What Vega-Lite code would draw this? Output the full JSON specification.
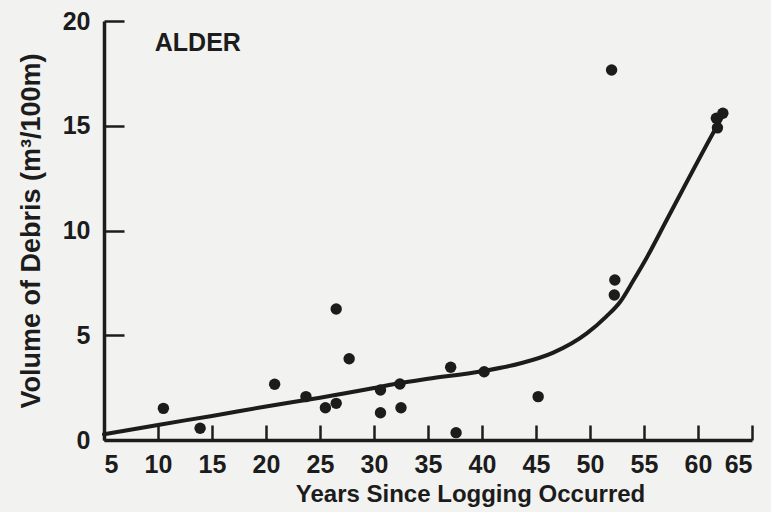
{
  "$schema": "https://vega.github.io/schema/vega-lite/v6.json",
  "width": 648,
  "height": 419,
  "autosize": {"type": "none"},
  "padding": {"left": 104, "top": 21, "right": 19, "bottom": 72},
  "background": "#f2f2f0",
  "config": {
    "view": {"stroke": null},
    "axis": {
      "grid": false,
      "domainColor": "#1c1c1c",
      "domainWidth": 3.5,
      "tickColor": "#1c1c1c",
      "tickWidth": 2.5,
      "labelFont": "Liberation Sans",
      "labelFontWeight": "bold",
      "labelFontSize": 25,
      "labelColor": "#1c1c1c",
      "titleFont": "Liberation Sans",
      "titleFontWeight": "bold",
      "titleFontSize": 24,
      "titleColor": "#1c1c1c"
    }
  },
  "datasets": {
    "points": [
      {"years": 10.5, "volume": 1.51},
      {"years": 13.9, "volume": 0.56},
      {"years": 20.8, "volume": 2.66},
      {"years": 23.7, "volume": 2.07},
      {"years": 25.5, "volume": 1.54},
      {"years": 26.5, "volume": 1.75},
      {"years": 26.5, "volume": 6.25},
      {"years": 27.7, "volume": 3.88},
      {"years": 30.6, "volume": 2.39},
      {"years": 30.6, "volume": 1.3},
      {"years": 32.4, "volume": 2.67},
      {"years": 32.5, "volume": 1.54},
      {"years": 37.1, "volume": 3.47},
      {"years": 37.6, "volume": 0.35},
      {"years": 40.2, "volume": 3.26},
      {"years": 45.2, "volume": 2.07},
      {"years": 52.0, "volume": 17.66},
      {"years": 52.3, "volume": 7.64},
      {"years": 52.25, "volume": 6.92},
      {"years": 61.7, "volume": 15.36},
      {"years": 62.3, "volume": 15.6},
      {"years": 61.8, "volume": 14.9}
    ],
    "curve": [
      {"years": 5, "volume": 0.27},
      {"years": 10, "volume": 0.72},
      {"years": 15, "volume": 1.15},
      {"years": 20, "volume": 1.6},
      {"years": 25, "volume": 2.02},
      {"years": 30, "volume": 2.48},
      {"years": 32.4, "volume": 2.72},
      {"years": 35, "volume": 2.92},
      {"years": 40, "volume": 3.28},
      {"years": 43.5, "volume": 3.65},
      {"years": 46.6, "volume": 4.17},
      {"years": 49.7, "volume": 5.09},
      {"years": 51.5, "volume": 5.89},
      {"years": 52.8, "volume": 6.6},
      {"years": 54, "volume": 7.6},
      {"years": 55.25, "volume": 8.7},
      {"years": 57.1, "volume": 10.5},
      {"years": 61.4, "volume": 14.65},
      {"years": 62.5, "volume": 15.67}
    ],
    "labels": [
      {"years": 9.7, "volume": 18.95, "text": "ALDER"}
    ]
  },
  "layer": [
    {
      "data": {"name": "curve"},
      "mark": {"type": "line", "color": "#1c1c1c", "strokeWidth": 4, "interpolate": "monotone", "strokeCap": "round"},
      "encoding": {
        "x": {
          "field": "years",
          "type": "quantitative",
          "scale": {"domain": [5, 65], "nice": false, "zero": false},
          "axis": {
            "values": [5, 10, 15, 20, 25, 30, 35, 40, 45, 50, 55, 60, 65],
            "tickSize": -15,
            "labelPadding": 27,
            "title": "Years Since Logging Occurred",
            "titleX": 366,
            "titleAlign": "center",
            "titlePadding": 5
          }
        },
        "y": {
          "field": "volume",
          "type": "quantitative",
          "scale": {"domain": [0, 20], "nice": false},
          "axis": {
            "values": [0, 5, 10, 15, 20],
            "tickSize": -20,
            "labelPadding": 34,
            "title": "Volume of Debris (m³/100m)",
            "titleFontSize": 27,
            "titlePadding": 17
          }
        }
      }
    },
    {
      "data": {"name": "points"},
      "mark": {"type": "circle", "color": "#1c1c1c", "opacity": 1, "size": 130},
      "encoding": {
        "x": {"field": "years", "type": "quantitative"},
        "y": {"field": "volume", "type": "quantitative"}
      }
    },
    {
      "data": {"name": "labels"},
      "mark": {"type": "text", "font": "Liberation Sans", "fontWeight": "bold", "fontSize": 25, "align": "left", "baseline": "middle", "color": "#1c1c1c", "letterSpacing": 3},
      "encoding": {
        "x": {"field": "years", "type": "quantitative"},
        "y": {"field": "volume", "type": "quantitative"},
        "text": {"field": "text"}
      }
    }
  ]
}
